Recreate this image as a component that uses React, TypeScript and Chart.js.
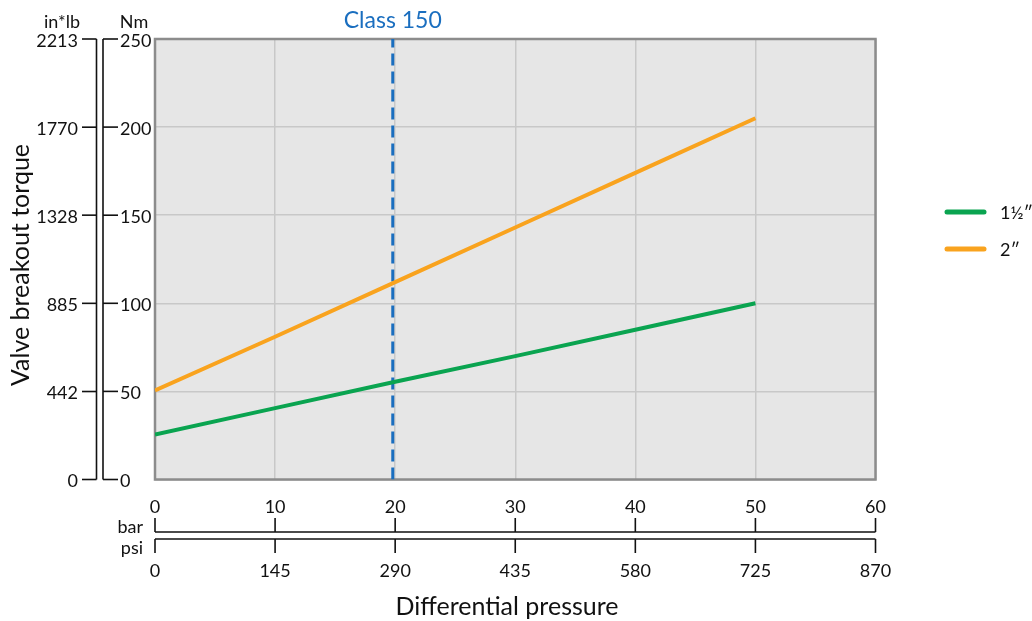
import React, { useEffect, useRef } from 'react';
import { Chart, registerables } from 'chart.js';

Chart.register(...registerables);

// ---- data ----
const barTicks = [0, 10, 20, 30, 40, 50, 60];
const psiTicks = [0, 145, 290, 435, 580, 725, 870];
const nmTicks = [0, 50, 100, 150, 200, 250];
const inlbTicks = [0, 442, 885, 1328, 1770, 2213];
const pressureBar = [0, 10, 20, 30, 40, 50];
const torque1half = [25.5, 40.5, 55.5, 70, 85, 100];
const torque2 = [50.5, 81, 112, 143, 174, 205];
const seriesLabels = ['1½″', '2″'];
const seriesColors = ['#0aa450', '#f9a31e'];
const classPressure = 19.8;
const classLabel = 'Class 150';
const yTitle = 'Valve breakout torque';
const xTitle = 'Differential pressure';
const nmUnit = 'Nm';
const lbUnit = 'in*lb';
const barUnit = 'bar';
const psiUnit = 'psi';

const FONT = 'Lato, "Open Sans", sans-serif';
const TEXT = '#111111';
const BLUE = '#1a6ebf';

const customPlugin = {
  id: 'customDecor',
  beforeDraw(chart: any) {
    const { ctx, chartArea: a } = chart;
    ctx.save();
    ctx.fillStyle = '#e6e6e6';
    ctx.fillRect(a.left, a.top, a.right - a.left, a.bottom - a.top);
    ctx.restore();
  },
  beforeDatasetsDraw(chart: any) {
    const { ctx, chartArea: a } = chart;
    ctx.save();
    ctx.strokeStyle = '#8c8c8c';
    ctx.lineWidth = 2.5;
    ctx.strokeRect(a.left, a.top, a.right - a.left, a.bottom - a.top);
    ctx.restore();
  },
  afterDraw(chart: any) {
    const { ctx } = chart;
    const x = chart.scales.x;
    const xp = chart.scales.xPsi;
    const y = chart.scales.y;
    const yl = chart.scales.yLb;
    ctx.save();
    ctx.strokeStyle = TEXT;
    ctx.fillStyle = TEXT;
    ctx.lineWidth = 1.6;

    // left axes
    const lbX = 96.5;
    const nmX = 103;
    const yTop = y.getPixelForValue(nmTicks[nmTicks.length - 1]);
    const yBot = y.getPixelForValue(nmTicks[0]);
    ctx.beginPath();
    ctx.moveTo(lbX, yTop);
    ctx.lineTo(lbX, yBot);
    ctx.moveTo(nmX, yTop);
    ctx.lineTo(nmX, yBot);
    ctx.stroke();
    ctx.font = `18px ${FONT}`;
    ctx.textBaseline = 'middle';
    inlbTicks.forEach((v) => {
      const py = yl.getPixelForValue(v);
      ctx.beginPath();
      ctx.moveTo(82, py);
      ctx.lineTo(lbX, py);
      ctx.stroke();
      ctx.textAlign = 'right';
      ctx.fillText(String(v), 78, py + 2);
    });
    nmTicks.forEach((v) => {
      const py = y.getPixelForValue(v);
      ctx.beginPath();
      ctx.moveTo(nmX, py);
      ctx.lineTo(118, py);
      ctx.stroke();
      ctx.textAlign = 'left';
      ctx.fillText(String(v), 120, py + 2);
    });
    ctx.textAlign = 'center';
    ctx.fillText(lbUnit, 62, 22);
    ctx.fillText(nmUnit, 134, 22);

    // bottom axes
    const barY = 532;
    const psiY = 539;
    const xL = x.getPixelForValue(barTicks[0]);
    const xR = x.getPixelForValue(barTicks[barTicks.length - 1]);
    ctx.beginPath();
    ctx.moveTo(xL, barY);
    ctx.lineTo(xR, barY);
    ctx.moveTo(xL, psiY);
    ctx.lineTo(xR, psiY);
    ctx.stroke();
    barTicks.forEach((v) => {
      const px = x.getPixelForValue(v);
      ctx.beginPath();
      ctx.moveTo(px, 518);
      ctx.lineTo(px, barY);
      ctx.stroke();
      ctx.textAlign = 'center';
      ctx.fillText(String(v), px, 507);
    });
    psiTicks.forEach((v) => {
      const px = xp.getPixelForValue(v);
      ctx.beginPath();
      ctx.moveTo(px, psiY);
      ctx.lineTo(px, 553);
      ctx.stroke();
      ctx.textAlign = 'center';
      ctx.fillText(String(v), px, 571);
    });
    ctx.textAlign = 'right';
    ctx.fillText(barUnit, 143, 527);
    ctx.fillText(psiUnit, 143, 548);

    // axis titles
    ctx.font = `25px ${FONT}`;
    ctx.textAlign = 'center';
    ctx.fillText(xTitle, 507, 607);
    ctx.save();
    ctx.translate(21, 265);
    ctx.rotate(-Math.PI / 2);
    ctx.fillText(yTitle, 0, 0);
    ctx.restore();

    // class label
    ctx.fillStyle = BLUE;
    ctx.font = `23px ${FONT}`;
    ctx.fillText(classLabel, x.getPixelForValue(classPressure), 21);

    // legend
    ctx.font = `18px ${FONT}`;
    ctx.textAlign = 'left';
    ctx.lineCap = 'round';
    const legendY = [212, 249];
    seriesLabels.forEach((lab, i) => {
      ctx.strokeStyle = seriesColors[i];
      ctx.lineWidth = 5;
      ctx.beginPath();
      ctx.moveTo(947, legendY[i]);
      ctx.lineTo(984, legendY[i]);
      ctx.stroke();
      ctx.fillStyle = TEXT;
      ctx.fillText(lab, 1000, legendY[i] + 1);
    });
    ctx.restore();
  },
};

export default function App() {
  const ref = useRef<HTMLCanvasElement>(null);
  useEffect(() => {
    if (!ref.current) return;
    const chart = new Chart(ref.current, {
      type: 'line',
      data: {
        datasets: [
          {
            label: seriesLabels[0],
            data: pressureBar.map((p, i) => ({ x: p, y: torque1half[i] })),
            borderColor: seriesColors[0],
            borderWidth: 4,
            pointRadius: 0,
            tension: 0,
            xAxisID: 'x',
            yAxisID: 'y',
          },
          {
            label: seriesLabels[1],
            data: pressureBar.map((p, i) => ({ x: p, y: torque2[i] })),
            borderColor: seriesColors[1],
            borderWidth: 4,
            pointRadius: 0,
            tension: 0,
            xAxisID: 'x',
            yAxisID: 'y',
          },
          {
            label: classLabel,
            data: [
              { x: classPressure, y: nmTicks[0] },
              { x: classPressure, y: nmTicks[nmTicks.length - 1] },
            ],
            borderColor: BLUE,
            borderWidth: 3,
            borderDash: [12, 6],
            pointRadius: 0,
            xAxisID: 'x',
            yAxisID: 'y',
          },
        ],
      },
      options: {
        responsive: false,
        animation: false,
        layout: { padding: { left: 155, top: 39, right: 156.5, bottom: 141.5 } },
        plugins: { legend: { display: false }, tooltip: { enabled: false } },
        scales: {
          x: {
            type: 'linear',
            position: 'bottom',
            min: barTicks[0],
            max: barTicks[barTicks.length - 1],
            afterBuildTicks: (s: any) => {
              s.ticks = barTicks.map((v) => ({ value: v }));
            },
            ticks: { display: false },
            grid: { color: '#c8c8c8', lineWidth: 1.5, drawTicks: false },
            border: { display: false },
          },
          xPsi: {
            type: 'linear',
            axis: 'x',
            position: 'bottom',
            min: psiTicks[0],
            max: psiTicks[psiTicks.length - 1],
            display: false,
          },
          y: {
            type: 'linear',
            position: 'left',
            min: nmTicks[0],
            max: nmTicks[nmTicks.length - 1],
            afterBuildTicks: (s: any) => {
              s.ticks = nmTicks.map((v) => ({ value: v }));
            },
            ticks: { display: false },
            grid: { color: '#c8c8c8', lineWidth: 1.5, drawTicks: false },
            border: { display: false },
          },
          yLb: {
            type: 'linear',
            axis: 'y',
            position: 'left',
            min: inlbTicks[0],
            max: inlbTicks[inlbTicks.length - 1],
            display: false,
          },
        },
      } as any,
      plugins: [customPlugin],
    });
    return () => chart.destroy();
  }, []);
  return (
    <div style={{ position: 'fixed', left: 0, top: 0, width: 1032, height: 621, background: '#fff' }}>
      <canvas ref={ref} width={1032} height={621} style={{ display: 'block' }} />
    </div>
  );
}
